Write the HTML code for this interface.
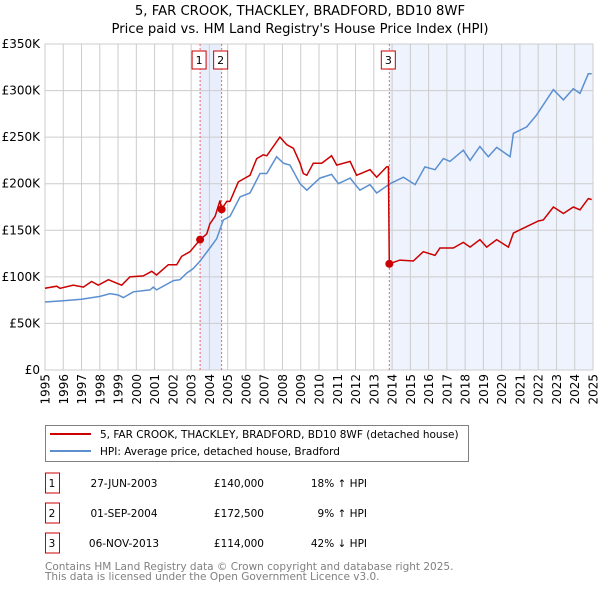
<!DOCTYPE html>
<html><head><meta charset="utf-8"><style>
body{margin:0;background:#fff;}
svg{display:block;font-family:"DejaVu Sans","Liberation Sans",sans-serif;}
</style></head><body>
<svg id="c" width="600" height="590" viewBox="0 0 600 590">
<text x="300" y="15" text-anchor="middle" font-size="13.2">5, FAR CROOK, THACKLEY, BRADFORD, BD10 8WF</text>
<text x="300" y="33" text-anchor="middle" font-size="13.2">Price paid vs. HM Land Registry's House Price Index (HPI)</text>
<g id="plot"></g>
<g>
<rect x="45.5" y="425.5" width="423" height="36" fill="#fff" stroke="#808080"/>
<line x1="50" y1="434" x2="91" y2="434" stroke="#cc0000" stroke-width="2"/>
<text x="100" y="438" font-size="10.5">5, FAR CROOK, THACKLEY, BRADFORD, BD10 8WF (detached house)</text>
<line x1="50" y1="451" x2="91" y2="451" stroke="#5b8fd0" stroke-width="2"/>
<text x="100" y="455" font-size="10.5">HPI: Average price, detached house, Bradford</text>
</g>
<g id="table" font-size="10.5"></g>
<text x="45" y="570" font-size="10.5" fill="#808080">Contains HM Land Registry data © Crown copyright and database right 2025.</text>
<text x="45" y="580" font-size="10.5" fill="#808080">This data is licensed under the Open Government Licence v3.0.</text>
</svg>
<script>
const hpiYears=[1995.0,1996.0,1997.0,1998.01,1998.56,1999.01,1999.29,1999.84,2000.75,2000.93,2001.11,2002.03,2002.39,2002.76,2003.12,2003.49,2004.03,2004.4,2004.76,2005.13,2005.68,2006.22,2006.77,2007.14,2007.68,2008.05,2008.41,2008.96,2009.33,2010.05,2010.69,2011.06,2011.7,2012.24,2012.79,2013.16,2013.89,2014.62,2015.26,2015.8,2016.35,2016.81,2017.17,2017.9,2018.27,2018.81,2019.27,2019.73,2020.46,2020.64,2021.37,2021.92,2022.83,2023.38,2023.92,2024.29,2024.74,2024.93];
const hpiValues=[73,74.4,76,79,82,80.5,77.7,84,86,89,86,96,97,104,109,117,131,141,161,165,186,190,211,211,229,222,220,200,193,206,210,200,206,193,199,190,200,207,199,218,215,227,224,236,225,240,229,239,229,254,261,274,301,290,302,297,318,318];
const priceYears=[1995.0,1995.64,1995.82,1996.55,1997.1,1997.55,1997.92,1998.47,1999.2,1999.65,2000.38,2000.84,2001.11,2001.75,2002.21,2002.48,2002.94,2003.49,2003.85,2004.03,2004.31,2004.58,2004.67,2004.95,2005.13,2005.58,2005.95,2006.22,2006.59,2006.95,2007.14,2007.86,2008.23,2008.6,2008.96,2009.14,2009.33,2009.69,2010.15,2010.69,2010.97,2011.7,2012.06,2012.79,2013.16,2013.7,2013.8,2013.85,2014.43,2015.16,2015.71,2016.35,2016.62,2017.35,2017.9,2018.27,2018.81,2019.18,2019.73,2020.37,2020.64,2021.37,2022.01,2022.28,2022.83,2023.38,2023.92,2024.29,2024.74,2024.93];
const priceValues=[87.7,90,87.7,91,89,95,91,97,91,100,101,106,102,113,113,122,127,140,146,157,165,182,172.5,181,181,202,206,209,227,231,230,250,242,238,222,211,209,222,222,230,220,224,209,215,207,218,218,114,118,117,127,123,131,131,137,132,140,132,140,132,147,154,160,161,175,168,175,172,184,183];
const saleYears=[2003.49,2004.67,2013.85];
const saleValues=[140,172.5,114];
const saleLabels=["1","2","3"];
const saleDates=["27-JUN-2003","01-SEP-2004","06-NOV-2013"];
const salePrices=["£140,000","£172,500","£114,000"];
const saleDiffs=["18% ↑ HPI","9% ↑ HPI","42% ↓ HPI"];
const yTicks=[0,50,100,150,200,250,300,350];
const yTickLabels=["£0","£50K","£100K","£150K","£200K","£250K","£300K","£350K"];
const xTicks=[1995,1996,1997,1998,1999,2000,2001,2002,2003,2004,2005,2006,2007,2008,2009,2010,2011,2012,2013,2014,2015,2016,2017,2018,2019,2020,2021,2022,2023,2024,2025];

const L=45,R=593,T=44,B=370;
const X=y=>L+(y-1995)/30*(R-L);
const Y=v=>B-v/350*(B-T);
const NS="http://www.w3.org/2000/svg";
const plot=document.getElementById('plot');
function mk(tag,attrs,parent){const e=document.createElementNS(NS,tag);for(const k in attrs)e.setAttribute(k,attrs[k]);(parent||plot).appendChild(e);return e;}

let s=mk('rect',{x:X(saleYears[0]),y:T,width:X(saleYears[1])-X(saleYears[0]),height:B-T,fill:'#e8eefb'});


s=mk('rect',{x:X(saleYears[2]),y:T,width:R-X(saleYears[2]),height:B-T,fill:'#eef3fd'});



yTicks.forEach((v,i)=>{
  const g=mk('line',{x1:L,x2:R,y1:Y(v),y2:Y(v),stroke:'#cccccc','stroke-width':1});
  
  
  const t=mk('text',{x:L-5,y:Y(v)+4,'text-anchor':'end','font-size':12});
  t.textContent=yTickLabels[i];
  
  
});
xTicks.forEach(yr=>{
  const g=mk('line',{x1:X(yr),x2:X(yr),y1:T,y2:B,stroke:'#cccccc','stroke-width':1});
  
  
  const t=mk('text',{x:0,y:0,'text-anchor':'end','font-size':12,transform:`translate(${X(yr)+4.5},${B+4}) rotate(-90)`});
  t.textContent=yr;
  
  
});
const frame=mk('rect',{x:L,y:T,width:R-L,height:B-T,fill:'none',stroke:'#cccccc'});



saleYears.forEach((yr,i)=>{
  const l=mk('line',{x1:X(yr),x2:X(yr),y1:T,y2:B,stroke:'#ee6666','stroke-width':1,'stroke-dasharray':'2,2'});
  
  
  const r=mk('rect',{x:X(yr)-8,y:51,width:14,height:18,fill:'#fff',stroke:'#cc0000'});
  
  
  const t=mk('text',{x:X(yr)-1,y:64,'text-anchor':'middle','font-size':11});
  t.textContent=saleLabels[i];
  
  
});

function path(xs,vs){return xs.map((x,i)=>(i?'L':'M')+X(x).toFixed(1)+','+Y(vs[i]).toFixed(1)).join('');}
const hp=mk('path',{d:path(hpiYears,hpiValues),fill:'none',stroke:'#5b8fd0','stroke-width':1.5});


const pp=mk('path',{d:path(priceYears,priceValues),fill:'none',stroke:'#cc0000','stroke-width':1.5});


saleYears.forEach((yr,i)=>{
  const c=mk('circle',{cx:X(yr),cy:Y(saleValues[i]),r:4,fill:'#cc0000'});
  
  
});

const tb=document.getElementById('table');
saleLabels.forEach((lab,i)=>{
  const y=483+i*30;
  const r=mk('rect',{x:45.5,y:y-10,width:14,height:20,fill:'#fff',stroke:'#cc0000'},tb);
  
  
  const cells=[[52,lab,'middle'],[124,saleDates[i],'middle'],[264,salePrices[i],'end'],[367,saleDiffs[i],'end']];
  cells.forEach(c=>{
    const t=mk('text',{x:c[0],y:y+4,'text-anchor':c[2]},tb);
    t.textContent=c[1];
    
    
  });
});
</script>
</body></html>
